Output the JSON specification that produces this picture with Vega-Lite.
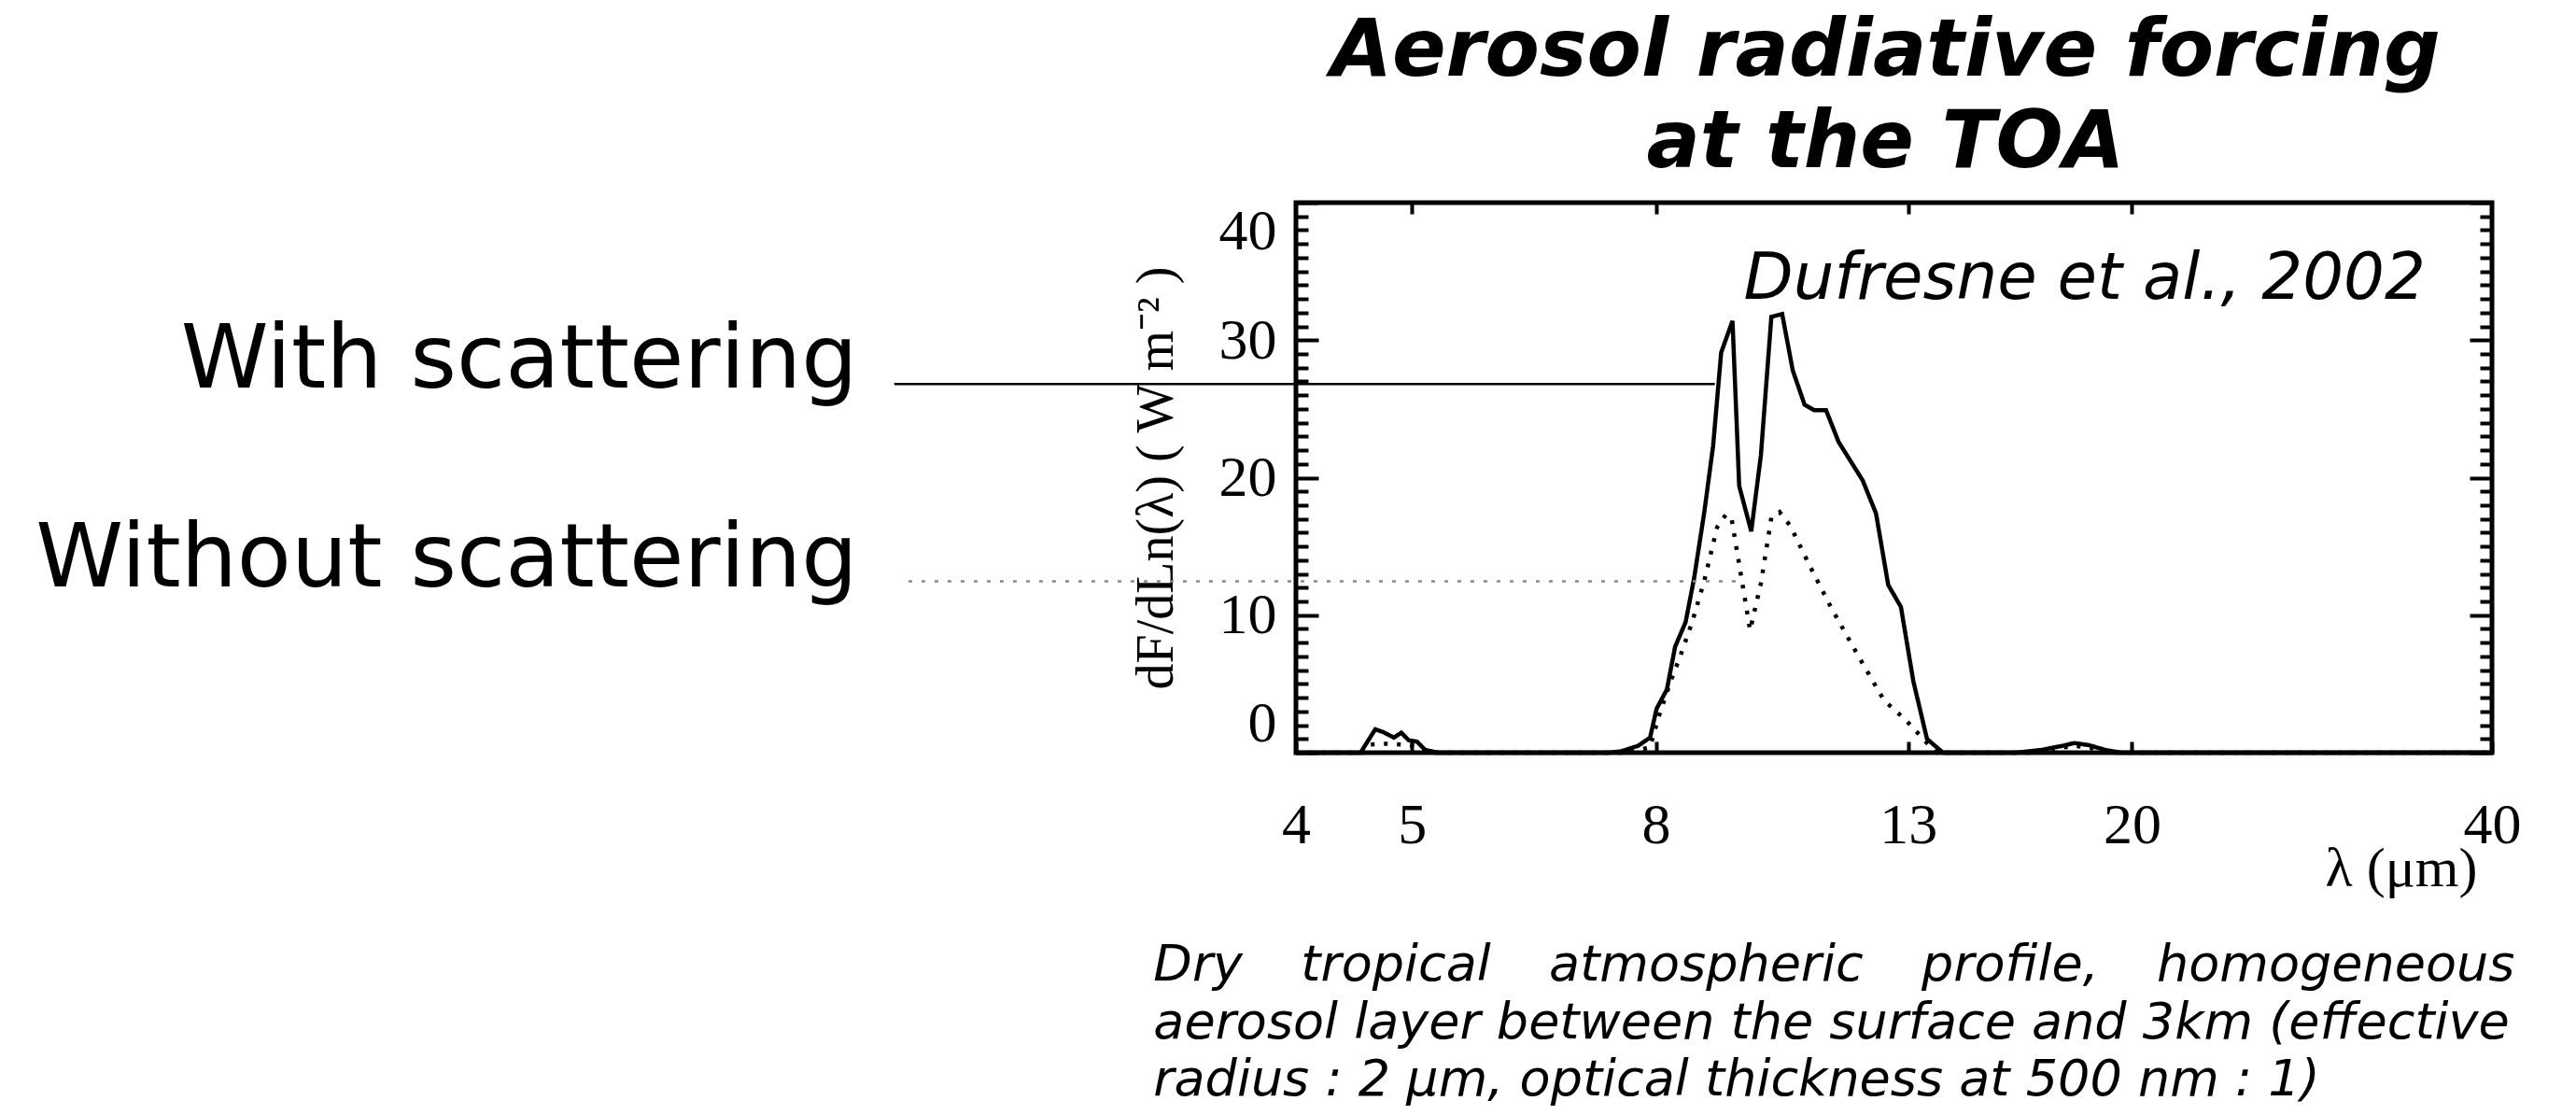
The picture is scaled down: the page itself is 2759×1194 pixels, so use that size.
{
  "$schema": "https://vega.github.io/schema/vega-lite/v6.json",
  "width": 1281,
  "height": 589,
  "autosize": {"type": "none"},
  "padding": {"left": 1388, "top": 217, "right": 90, "bottom": 388},
  "background": "white",
  "config": {
    "view": {"stroke": "black", "strokeWidth": 5},
    "axis": {"grid": false, "domain": false, "tickColor": "black", "labelColor": "black", "titleColor": "black"}
  },
  "title": {
    "text": ["Aerosol radiative forcing", "at the TOA"],
    "font": "DejaVu Sans",
    "fontSize": 85,
    "fontStyle": "italic",
    "fontWeight": "bold",
    "color": "black",
    "anchor": "middle",
    "frame": "group",
    "lineHeight": 98,
    "offset": 4,
    "dx": -9
  },
  "datasets": {
    "curves": [
      {"series": "With scattering", "x": 4, "y": 0},
      {"series": "With scattering", "x": 4.53, "y": 0},
      {"series": "With scattering", "x": 4.66, "y": 1.7},
      {"series": "With scattering", "x": 4.73, "y": 1.5},
      {"series": "With scattering", "x": 4.83, "y": 1.1},
      {"series": "With scattering", "x": 4.9, "y": 1.45},
      {"series": "With scattering", "x": 4.97, "y": 0.9},
      {"series": "With scattering", "x": 5.05, "y": 0.8},
      {"series": "With scattering", "x": 5.13, "y": 0.2},
      {"series": "With scattering", "x": 5.26, "y": 0},
      {"series": "With scattering", "x": 7.3, "y": 0},
      {"series": "With scattering", "x": 7.48, "y": 0.1},
      {"series": "With scattering", "x": 7.73, "y": 0.5},
      {"series": "With scattering", "x": 7.91, "y": 1.1},
      {"series": "With scattering", "x": 8.01, "y": 3.2},
      {"series": "With scattering", "x": 8.17, "y": 4.6},
      {"series": "With scattering", "x": 8.3, "y": 7.7},
      {"series": "With scattering", "x": 8.47, "y": 9.5},
      {"series": "With scattering", "x": 8.61, "y": 12.7},
      {"series": "With scattering", "x": 8.78, "y": 17.5},
      {"series": "With scattering", "x": 8.93, "y": 22.3},
      {"series": "With scattering", "x": 9.07, "y": 29.1},
      {"series": "With scattering", "x": 9.27, "y": 31.4},
      {"series": "With scattering", "x": 9.39, "y": 19.4},
      {"series": "With scattering", "x": 9.61, "y": 16.1},
      {"series": "With scattering", "x": 9.79, "y": 21.6},
      {"series": "With scattering", "x": 9.99, "y": 31.7},
      {"series": "With scattering", "x": 10.2, "y": 31.9},
      {"series": "With scattering", "x": 10.41, "y": 27.8},
      {"series": "With scattering", "x": 10.65, "y": 25.3},
      {"series": "With scattering", "x": 10.85, "y": 24.9},
      {"series": "With scattering", "x": 11.1, "y": 24.9},
      {"series": "With scattering", "x": 11.37, "y": 22.6},
      {"series": "With scattering", "x": 11.91, "y": 19.8},
      {"series": "With scattering", "x": 12.22, "y": 17.4},
      {"series": "With scattering", "x": 12.51, "y": 12.2},
      {"series": "With scattering", "x": 12.82, "y": 10.6},
      {"series": "With scattering", "x": 13.13, "y": 5.2},
      {"series": "With scattering", "x": 13.48, "y": 1.0},
      {"series": "With scattering", "x": 13.9, "y": 0},
      {"series": "With scattering", "x": 16.0, "y": 0},
      {"series": "With scattering", "x": 16.8, "y": 0.2},
      {"series": "With scattering", "x": 17.5, "y": 0.5},
      {"series": "With scattering", "x": 17.9, "y": 0.7},
      {"series": "With scattering", "x": 18.4, "y": 0.55},
      {"series": "With scattering", "x": 19.0, "y": 0.2},
      {"series": "With scattering", "x": 19.6, "y": 0},
      {"series": "With scattering", "x": 40, "y": 0},
      {"series": "Without scattering", "x": 4, "y": 0},
      {"series": "Without scattering", "x": 4.55, "y": 0},
      {"series": "Without scattering", "x": 4.62, "y": 0.6},
      {"series": "Without scattering", "x": 4.75, "y": 0.65},
      {"series": "Without scattering", "x": 4.9, "y": 0.6},
      {"series": "Without scattering", "x": 5.0, "y": 0.5},
      {"series": "Without scattering", "x": 5.1, "y": 0.1},
      {"series": "Without scattering", "x": 5.2, "y": 0},
      {"series": "Without scattering", "x": 7.6, "y": 0},
      {"series": "Without scattering", "x": 7.91, "y": 0.4},
      {"series": "Without scattering", "x": 8.04, "y": 2.6},
      {"series": "Without scattering", "x": 8.23, "y": 5.2},
      {"series": "Without scattering", "x": 8.39, "y": 7.1},
      {"series": "Without scattering", "x": 8.57, "y": 9.4},
      {"series": "Without scattering", "x": 8.78, "y": 12.5},
      {"series": "Without scattering", "x": 9.0, "y": 16.4},
      {"series": "Without scattering", "x": 9.15, "y": 17.3},
      {"series": "Without scattering", "x": 9.25, "y": 17.1},
      {"series": "Without scattering", "x": 9.39, "y": 13.7},
      {"series": "Without scattering", "x": 9.59, "y": 8.9},
      {"series": "Without scattering", "x": 9.79, "y": 12.3},
      {"series": "Without scattering", "x": 9.99, "y": 17.1},
      {"series": "Without scattering", "x": 10.15, "y": 17.5},
      {"series": "Without scattering", "x": 10.36, "y": 16.5},
      {"series": "Without scattering", "x": 10.74, "y": 13.7},
      {"series": "Without scattering", "x": 11.2, "y": 10.6},
      {"series": "Without scattering", "x": 11.78, "y": 7.2},
      {"series": "Without scattering", "x": 12.41, "y": 3.8},
      {"series": "Without scattering", "x": 12.93, "y": 2.4},
      {"series": "Without scattering", "x": 13.48, "y": 0.7},
      {"series": "Without scattering", "x": 13.75, "y": 0},
      {"series": "Without scattering", "x": 16.5, "y": 0},
      {"series": "Without scattering", "x": 17.3, "y": 0.3},
      {"series": "Without scattering", "x": 17.9, "y": 0.5},
      {"series": "Without scattering", "x": 18.6, "y": 0.3},
      {"series": "Without scattering", "x": 19.3, "y": 0},
      {"series": "Without scattering", "x": 40, "y": 0}
    ],
    "markers": [
      {"series": "With scattering", "x": 1.846, "x2": 8.96, "y": 26.8},
      {"series": "Without scattering", "x": 1.897, "x2": 9.33, "y": 12.47}
    ],
    "labels": [
      {"label": "With scattering", "x": 1.72, "y": 26.55},
      {"label": "Without scattering", "x": 1.72, "y": 12.09}
    ],
    "citation": [
      {"label": "Dufresne et al., 2002", "x": 35.2, "y": 33.0}
    ],
    "caption": [
      {"label": "Dry\u00a0\u00a0\u2009 tropical\u00a0\u00a0\u2009 atmospheric\u00a0\u00a0\u2009 profile,\u00a0\u00a0\u2009 homogeneous", "x": 3.04, "y": -16.57},
      {"label": "aerosol layer between the surface and 3km (effective", "x": 3.04, "y": -20.76},
      {"label": "radius : 2 µm, optical thickness at 500 nm : 1)", "x": 3.04, "y": -24.92}
    ]
  },
  "layer": [
    {
      "data": {"name": "curves"},
      "mark": {"type": "line", "color": "black", "strokeWidth": 4.5, "interpolate": "linear", "clip": false},
      "encoding": {
        "x": {
          "field": "x", "type": "quantitative",
          "scale": {"type": "log", "domain": [4, 40], "nice": false},
          "axis": {
            "orient": "bottom", "values": [4, 5, 8, 13, 20, 40], "format": "~g",
            "tickSize": -12, "tickWidth": 4,
            "labelFont": "Liberation Serif", "labelFontSize": 62, "labelPadding": 59,
            "labelBaseline": "top", "labelFlush": false, "labelOverlap": false,
            "title": "λ  (μm)", "titleFont": "Liberation Serif", "titleFontSize": 60,
            "titleFontWeight": "normal", "titleX": 1265, "titleY": 142,
            "titleAlign": "right", "titleBaseline": "alphabetic"
          }
        },
        "y": {
          "field": "y", "type": "quantitative",
          "scale": {"domain": [0, 40], "nice": false, "zero": false},
          "axis": {
            "orient": "left",
            "values": [0,1,2,3,4,5,6,7,8,9,10,11,12,13,14,15,16,17,18,19,20,21,22,23,24,25,26,27,28,29,30,31,32,33,34,35,36,37,38,39,40],
            "tickSize": {"condition": {"test": "datum.value % 10 === 0", "value": -24}, "value": -13},
            "tickWidth": 4,
            "labelExpr": "datum.value % 10 === 0 ? datum.label : ''",
            "labelFont": "Liberation Serif", "labelFontSize": 62, "labelPadding": 45,
            "labelFlush": true, "labelOverlap": false,
            "title": "dF/dLn(λ)  ( W  m⁻² )", "titleFont": "Liberation Serif", "titleFontSize": 56,
            "titleFontWeight": "normal", "titlePadding": 38
          }
        },
        "strokeDash": {
          "field": "series", "type": "nominal",
          "scale": {"domain": ["With scattering", "Without scattering"], "range": [[1, 0], [4, 10]]},
          "legend": null
        }
      }
    },
    {
      "data": {"name": "markers"},
      "mark": {"type": "rule", "strokeWidth": 2.5},
      "encoding": {
        "x": {
          "field": "x", "type": "quantitative",
          "scale": {"type": "log", "domain": [4, 40], "nice": false},
          "axis": {"orient": "top", "values": [5, 8, 13, 20], "tickSize": -12, "tickWidth": 4, "labels": false, "title": null}
        },
        "x2": {"field": "x2"},
        "y": {
          "field": "y", "type": "quantitative",
          "scale": {"domain": [0, 40], "nice": false, "zero": false},
          "axis": {
            "orient": "right",
            "values": [0,1,2,3,4,5,6,7,8,9,10,11,12,13,14,15,16,17,18,19,20,21,22,23,24,25,26,27,28,29,30,31,32,33,34,35,36,37,38,39,40],
            "tickSize": {"condition": {"test": "datum.value % 10 === 0", "value": -24}, "value": -13},
            "tickWidth": 4, "labels": false, "title": null
          }
        },
        "color": {
          "field": "series", "type": "nominal",
          "scale": {"domain": ["With scattering", "Without scattering"], "range": ["black", "#888888"]},
          "legend": null
        },
        "strokeDash": {
          "field": "series", "type": "nominal",
          "scale": {"domain": ["With scattering", "Without scattering"], "range": [[1, 0], [5, 3]]},
          "legend": null
        }
      }
    },
    {
      "data": {"name": "labels"},
      "mark": {"type": "text", "font": "DejaVu Sans", "fontSize": 95, "align": "right", "baseline": "alphabetic", "color": "black"},
      "encoding": {
        "x": {"field": "x", "type": "quantitative", "scale": {"type": "log", "domain": [4, 40], "nice": false}, "axis": null},
        "y": {"field": "y", "type": "quantitative", "scale": {"domain": [0, 40], "nice": false, "zero": false}, "axis": null},
        "text": {"field": "label"}
      }
    },
    {
      "data": {"name": "citation"},
      "mark": {"type": "text", "font": "DejaVu Sans", "fontSize": 69, "fontStyle": "italic", "align": "right", "baseline": "alphabetic", "color": "black"},
      "encoding": {
        "x": {"field": "x", "type": "quantitative", "scale": {"type": "log", "domain": [4, 40], "nice": false}, "axis": null},
        "y": {"field": "y", "type": "quantitative", "scale": {"domain": [0, 40], "nice": false, "zero": false}, "axis": null},
        "text": {"field": "label"}
      }
    },
    {
      "data": {"name": "caption"},
      "mark": {"type": "text", "font": "DejaVu Sans", "fontSize": 54, "fontStyle": "italic", "align": "left", "baseline": "alphabetic", "color": "black"},
      "encoding": {
        "x": {"field": "x", "type": "quantitative", "scale": {"type": "log", "domain": [4, 40], "nice": false}, "axis": null},
        "y": {"field": "y", "type": "quantitative", "scale": {"domain": [0, 40], "nice": false, "zero": false}, "axis": null},
        "text": {"field": "label"}
      }
    }
  ],
  "resolve": {"axis": {"x": "independent", "y": "independent"}}
}
